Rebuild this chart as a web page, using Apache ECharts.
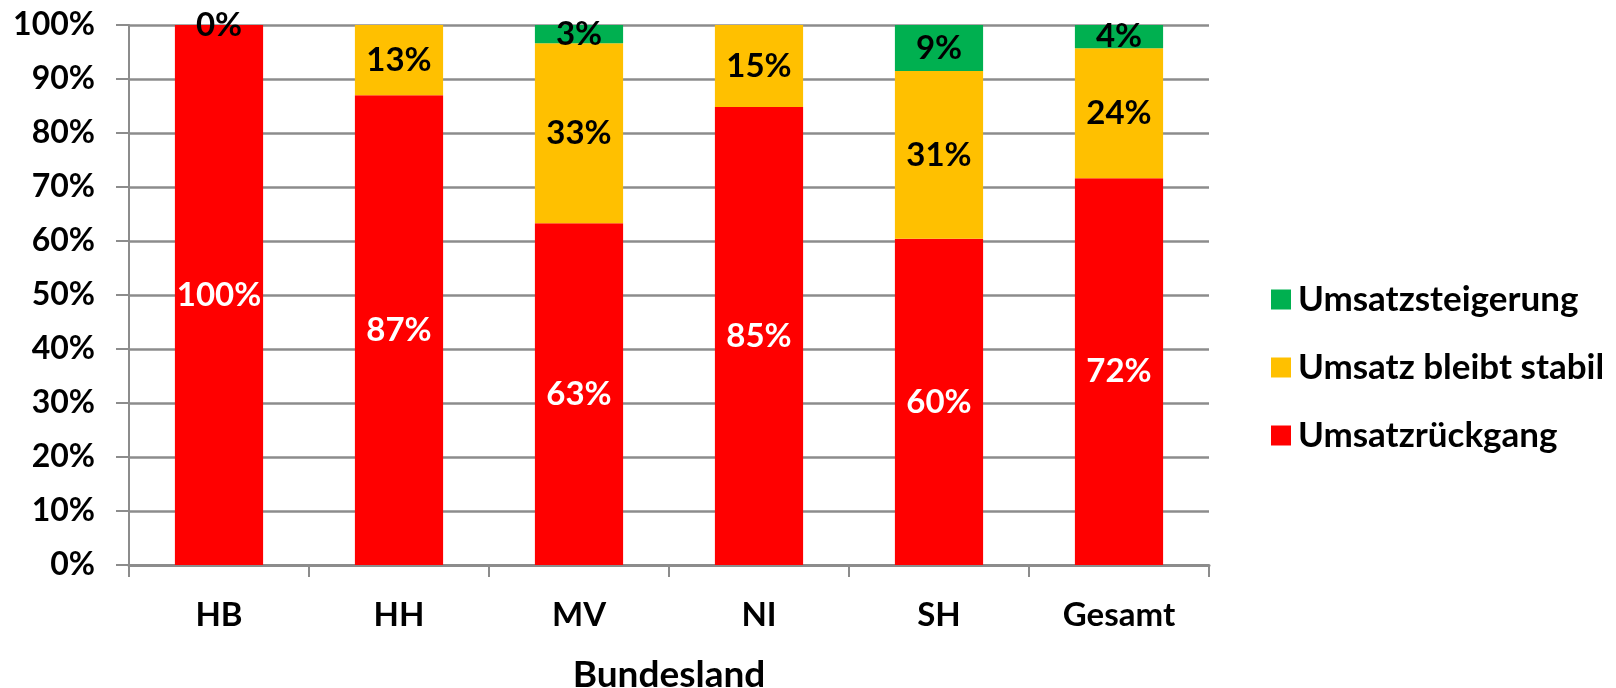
<!DOCTYPE html>
<html>
<head>
<meta charset="utf-8">
<script src="https://cdn.jsdelivr.net/npm/echarts@6/dist/echarts.min.js"></script>
<style>
  html, body { margin: 0; padding: 0; background: #fff; }
  #chart { width: 1616px; height: 688px; }
</style>
</head>
<body>
<div id="chart"></div>
<script>
// Bundesländer
const categories = ["HB", "HH", "MV", "NI", "SH", "Gesamt"]
// Anteile in %
const rueckgang = [100, 87, 63.3, 84.8, 60.4, 71.6]
const stabil = [0, 13, 33.3, 15.2, 31.1, 24.1]
const steigerung = [null, null, 3.4, null, 8.5, 4.3]
const yTicks = [0, 10, 20, 30, 40, 50, 60, 70, 80, 90, 100]

const FONT = "Lato"
const grey = "#8c8c8c"

const chart = echarts.init(document.getElementById("chart"))

const pctLabel = (color) => ({
  show: true,
  position: "inside",
  color: color,
  fontFamily: FONT,
  fontWeight: "bold",
  fontSize: 33,
  formatter: (p) => Math.round(p.value) + "%",
})

chart.setOption({
  animation: false,
  grid: { left: 129, right: 407, top: 25, bottom: 123, outerBoundsMode: "none" },
  legend: {
    orient: "vertical",
    left: 1266,
    top: 274,
    itemWidth: 20,
    itemHeight: 20,
    itemGap: 27,
    icon: "rect",
    data: ["Umsatzsteigerung", "Umsatz bleibt stabil", "Umsatzrückgang"],
    textStyle: {
      fontFamily: FONT,
      fontWeight: "bold",
      fontSize: 35,
      lineHeight: 41,
      color: "#000",
      padding: [0, 0, 0, 2],
    },
  },
  xAxis: {
    type: "category",
    data: categories,
    name: "Bundesland",
    nameLocation: "middle",
    nameGap: 92,
    nameTextStyle: { fontFamily: FONT, fontWeight: "bold", fontSize: 37, color: "#000" },
    axisLine: { lineStyle: { color: grey, width: 3 } },
    axisTick: { show: true, length: 12, lineStyle: { color: grey, width: 2 } },
    axisLabel: { margin: 34, fontFamily: FONT, fontWeight: "bold", fontSize: 33, color: "#000" },
  },
  yAxis: {
    type: "value",
    min: yTicks[0],
    max: yTicks[yTicks.length - 1],
    interval: 10,
    axisLine: { show: true, lineStyle: { color: grey, width: 2 } },
    axisTick: { show: true, length: 13, lineStyle: { color: grey, width: 2 } },
    splitLine: { lineStyle: { color: grey, width: 2.5 } },
    axisLabel: {
      margin: 34,
      fontFamily: FONT,
      fontWeight: "bold",
      fontSize: 32,
      color: "#000",
      formatter: "{value}%",
    },
  },
  series: [
    {
      name: "Umsatzrückgang",
      type: "bar",
      stack: "total",
      barWidth: "49%",
      itemStyle: { color: "#ff0000" },
      label: pctLabel("#fff"),
      data: rueckgang,
    },
    {
      name: "Umsatz bleibt stabil",
      type: "bar",
      stack: "total",
      itemStyle: { color: "#ffc000" },
      label: pctLabel("#000"),
      data: stabil,
    },
    {
      name: "Umsatzsteigerung",
      type: "bar",
      stack: "total",
      itemStyle: { color: "#00b050" },
      label: pctLabel("#000"),
      data: steigerung,
    },
  ],
})
</script>
</body>
</html>
